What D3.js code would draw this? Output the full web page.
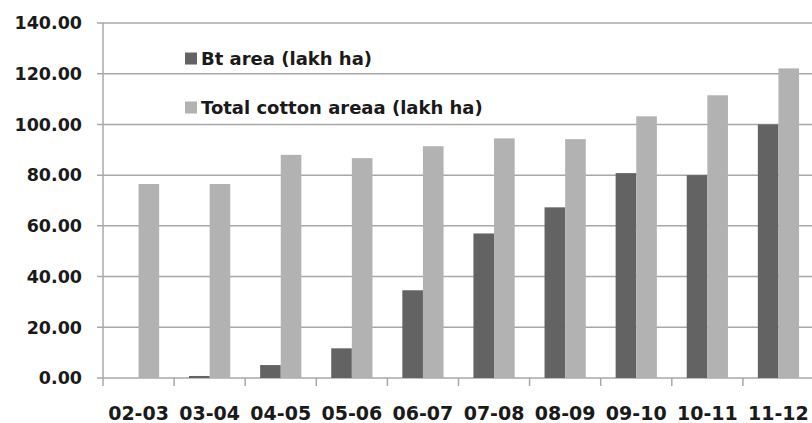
<!DOCTYPE html>
<html>
<head>
<meta charset="utf-8">
<script src="https://cdn.jsdelivr.net/npm/d3@7"></script>
<style>
  html, body { margin: 0; padding: 0; background: #fff; }
  svg { display: block; }
  text { font-family: "DejaVu Sans", sans-serif; font-weight: bold; fill: #1a1a1a; }
</style>
</head>
<body>
<svg id="chart" width="812" height="423"></svg>
<script>
// Cotton seasons
const seasons = ["02-03", "03-04", "04-05", "05-06", "06-07", "07-08", "08-09", "09-10", "10-11", "11-12"];
// Area under Bt cotton (lakh ha)
const btArea = [0, 0.8, 5.1, 11.7, 34.6, 57.0, 67.3, 80.8, 80.0, 100.0];
// Total cotton area (lakh ha)
const totalArea = [76.5, 76.5, 88.0, 86.7, 91.4, 94.5, 94.2, 103.2, 111.5, 122.1];
const seriesNames = ["Bt area (lakh ha)", "Total cotton areaa (lakh ha)"];
const seriesColors = ["#636363", "#b2b2b2"];
const yTicks = [0, 20, 40, 60, 80, 100, 120, 140];

const svg = d3.select("#chart");
const plotLeft = 103, plotRight = 814, plotTop = 23, plotBottom = 378;

const x0 = d3.scaleBand().domain(seasons).range([plotLeft, plotRight])
  .paddingInner(0.42).paddingOuter(0.21);
const x1 = d3.scaleBand().domain([0, 1]).range([0, x0.bandwidth()]);
const y = d3.scaleLinear().domain([0, 140]).range([plotBottom, plotTop]);

// Horizontal gridlines with small outward ticks
svg.append("g").selectAll("line").data(yTicks).join("line")
  .attr("x1", plotLeft - 6).attr("x2", 812)
  .attr("y1", d => y(d)).attr("y2", d => y(d))
  .attr("stroke", "#a8a8a8").attr("stroke-width", 1.5);

// Y tick labels
svg.append("g").selectAll("text").data(yTicks).join("text")
  .attr("x", 82).attr("y", d => y(d))
  .attr("dy", "0.36em")
  .attr("text-anchor", "end")
  .style("font-size", "17.5px")
  .text(d => d.toFixed(2));

// Bars
const rows = seasons.map((s, i) => ({ season: s, values: [btArea[i], totalArea[i]] }));
const groups = svg.append("g").selectAll("g").data(rows).join("g")
  .attr("transform", d => `translate(${x0(d.season)},0)`);
groups.selectAll("rect").data(d => d.values.map((v, k) => ({ v, k }))).join("rect")
  .attr("x", d => x1(d.k))
  .attr("width", x1.bandwidth())
  .attr("y", d => y(d.v))
  .attr("height", d => y(0) - y(d.v))
  .attr("fill", d => seriesColors[d.k]);

// Vertical axis line
svg.append("line")
  .attr("x1", plotLeft).attr("x2", plotLeft).attr("y1", plotTop).attr("y2", plotBottom)
  .attr("stroke", "#a8a8a8").attr("stroke-width", 1.5);

// Category boundary ticks below the baseline
const step = x0.step();
const boundaries = d3.range(seasons.length + 1).map(i => plotLeft + i * step);
svg.append("g").selectAll("line").data(boundaries).join("line")
  .attr("x1", d => d).attr("x2", d => d)
  .attr("y1", plotBottom).attr("y2", plotBottom + 8)
  .attr("stroke", "#a8a8a8").attr("stroke-width", 1.5);

// Category labels
svg.append("g").selectAll("text").data(seasons).join("text")
  .attr("x", d => x0(d) + x0.bandwidth() / 2)
  .attr("y", 413)
  .attr("dy", "0.36em")
  .attr("text-anchor", "middle")
  .style("font-size", "19px")
  .text(d => d);

// Legend
const legend = svg.append("g").selectAll("g").data(seriesNames).join("g")
  .attr("transform", (d, i) => `translate(185,${59 + i * 49})`);
legend.append("rect")
  .attr("x", 0).attr("y", -6.5).attr("width", 12).attr("height", 12)
  .attr("fill", (d, i) => seriesColors[i]);
legend.append("text")
  .attr("x", 16).attr("y", 0).attr("dy", "0.36em")
  .style("font-size", "18px")
  .text(d => d);
</script>
</body>
</html>
